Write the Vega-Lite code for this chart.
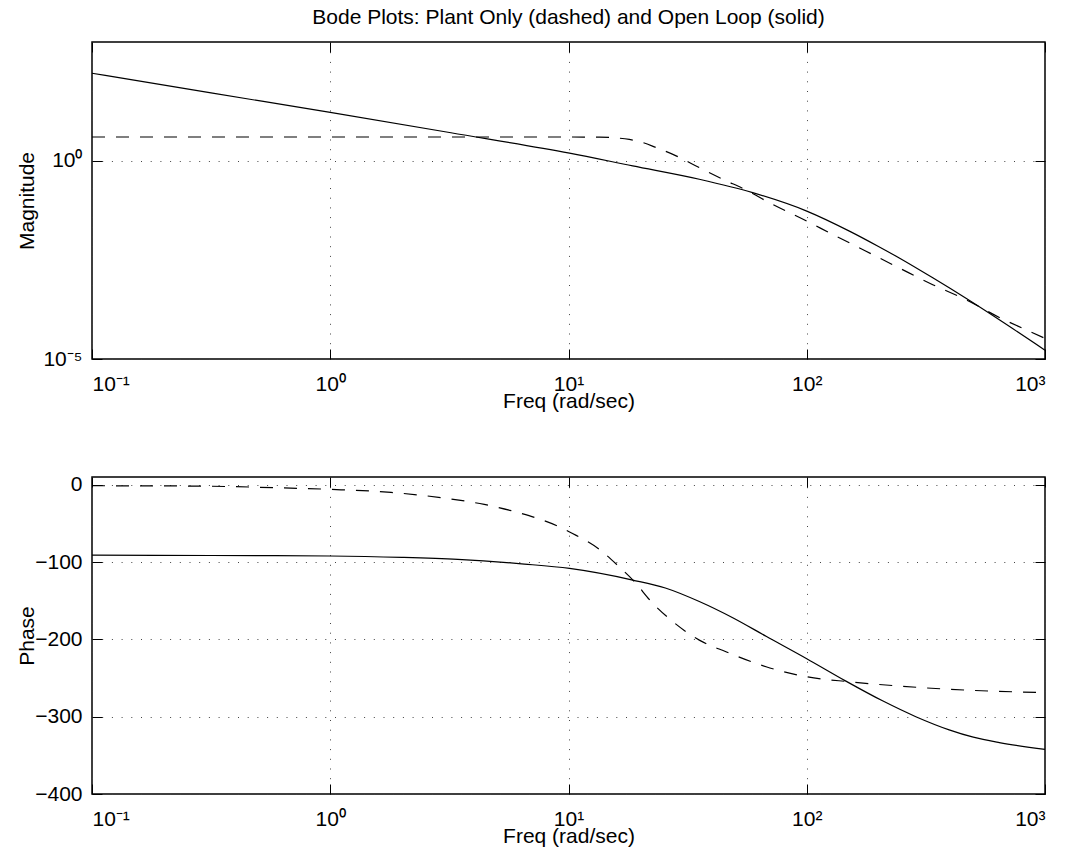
{
  "$schema": "https://vega.github.io/schema/vega-lite/v6.json",
  "background": "white",
  "padding": {"left": 15, "top": 5, "right": 20, "bottom": 5},
  "spacing": 118,
  "bounds": "flush",
  "datasets": {
    "mag": [
      {"series": "plant", "w": 0.1, "v": 4.0},
      {"series": "plant", "w": 1, "v": 4.0},
      {"series": "plant", "w": 10, "v": 4.0},
      {"series": "plant", "w": 13.5, "v": 3.98},
      {"series": "plant", "w": 14.8, "v": 3.9},
      {"series": "plant", "w": 18, "v": 3.47},
      {"series": "plant", "w": 20.5, "v": 2.91},
      {"series": "plant", "w": 23.3, "v": 2.17},
      {"series": "plant", "w": 28.3, "v": 1.34},
      {"series": "plant", "w": 35.4, "v": 0.676},
      {"series": "plant", "w": 44.4, "v": 0.344},
      {"series": "plant", "w": 55.6, "v": 0.184},
      {"series": "plant", "w": 69.7, "v": 0.0878},
      {"series": "plant", "w": 100, "v": 0.0302},
      {"series": "plant", "w": 128.5, "v": 0.0139},
      {"series": "plant", "w": 177.4, "v": 0.00525},
      {"series": "plant", "w": 244.5, "v": 0.00198},
      {"series": "plant", "w": 338, "v": 0.00075},
      {"series": "plant", "w": 466, "v": 0.000313},
      {"series": "plant", "w": 643, "v": 0.000112},
      {"series": "plant", "w": 832, "v": 0.0000545},
      {"series": "plant", "w": 1000, "v": 0.0000333},
      {"series": "open", "w": 0.1, "v": 162.9},
      {"series": "open", "w": 0.316, "v": 51.9},
      {"series": "open", "w": 1, "v": 16.7},
      {"series": "open", "w": 3.21, "v": 5.12},
      {"series": "open", "w": 10.1, "v": 1.57},
      {"series": "open", "w": 18.6, "v": 0.747},
      {"series": "open", "w": 35.4, "v": 0.344},
      {"series": "open", "w": 59.3, "v": 0.158},
      {"series": "open", "w": 100, "v": 0.0541},
      {"series": "open", "w": 151, "v": 0.0169},
      {"series": "open", "w": 200, "v": 0.00692},
      {"series": "open", "w": 244.5, "v": 0.00354},
      {"series": "open", "w": 338, "v": 0.001117},
      {"series": "open", "w": 466, "v": 0.00034},
      {"series": "open", "w": 643, "v": 0.0000977},
      {"series": "open", "w": 1000, "v": 0.0000167}
    ],
    "phase": [
      {"series": "plant", "w": 0.1, "v": -1.3},
      {"series": "plant", "w": 0.26, "v": -1.7},
      {"series": "plant", "w": 0.6, "v": -3.9},
      {"series": "plant", "w": 1, "v": -6.0},
      {"series": "plant", "w": 1.8, "v": -9.9},
      {"series": "plant", "w": 2.92, "v": -16.8},
      {"series": "plant", "w": 4.43, "v": -25.5},
      {"series": "plant", "w": 6.32, "v": -37},
      {"series": "plant", "w": 9.01, "v": -53.5},
      {"series": "plant", "w": 10.4, "v": -63},
      {"series": "plant", "w": 13.5, "v": -83.7},
      {"series": "plant", "w": 16.3, "v": -106},
      {"series": "plant", "w": 18.6, "v": -123},
      {"series": "plant", "w": 22.6, "v": -153.5},
      {"series": "plant", "w": 27.4, "v": -177},
      {"series": "plant", "w": 35.4, "v": -201},
      {"series": "plant", "w": 45.8, "v": -216},
      {"series": "plant", "w": 67.5, "v": -235.4},
      {"series": "plant", "w": 100, "v": -248.4},
      {"series": "plant", "w": 151, "v": -254.8},
      {"series": "plant", "w": 244.5, "v": -260.4},
      {"series": "plant", "w": 466, "v": -265.6},
      {"series": "plant", "w": 1000, "v": -268.8},
      {"series": "open", "w": 0.1, "v": -91},
      {"series": "open", "w": 0.316, "v": -91.5},
      {"series": "open", "w": 1, "v": -92.2},
      {"series": "open", "w": 2, "v": -94},
      {"series": "open", "w": 3.43, "v": -96.6},
      {"series": "open", "w": 6.53, "v": -102.6},
      {"series": "open", "w": 10.1, "v": -108.3},
      {"series": "open", "w": 18.6, "v": -123.3},
      {"series": "open", "w": 25.5, "v": -133.5},
      {"series": "open", "w": 35.4, "v": -151},
      {"series": "open", "w": 48.9, "v": -172},
      {"series": "open", "w": 67.5, "v": -196},
      {"series": "open", "w": 100, "v": -225},
      {"series": "open", "w": 146, "v": -254},
      {"series": "open", "w": 208, "v": -279.5},
      {"series": "open", "w": 287, "v": -300},
      {"series": "open", "w": 396, "v": -317},
      {"series": "open", "w": 500, "v": -326.5},
      {"series": "open", "w": 643, "v": -333.5},
      {"series": "open", "w": 1000, "v": -342.4}
    ]
  },
  "config": {
    "font": "Liberation Sans",
    "view": {"stroke": "black", "strokeWidth": 1.5},
    "axis": {
      "labelFont": "Liberation Sans",
      "labelFontSize": 21,
      "labelColor": "black",
      "titleFont": "Liberation Sans",
      "titleFontSize": 21,
      "titleFontWeight": "normal",
      "titleColor": "black",
      "domain": false,
      "tickColor": "black",
      "tickWidth": 1,
      "tickSize": -10,
      "grid": true,
      "gridColor": "#444",
      "gridDash": [1, 8.7],
      "gridWidth": 1
    },
    "title": {"font": "Liberation Sans", "fontSize": 21, "fontWeight": "normal", "color": "black"}
  },
  "vconcat": [
    {
      "width": 953,
      "height": 317,
      "title": {"text": "Bode Plots: Plant Only (dashed) and Open Loop (solid)", "frame": "group", "anchor": "middle", "offset": 14},
      "data": {"name": "mag"},
      "resolve": {"axis": {"x": "independent", "y": "independent"}},
      "layer": [
        {
          "transform": [{"filter": "datum.series === 'open'"}],
          "mark": {"type": "line", "color": "black", "strokeWidth": 1.2, "interpolate": "monotone"},
          "encoding": {
            "x": {"field": "w", "type": "quantitative",
              "scale": {"type": "log", "domain": [0.1, 1000], "nice": false},
              "axis": {"values": [0.1, 1, 10, 100, 1000], "title": "Freq (rad/sec)", "labelPadding": 24, "titlePadding": -4,
                "labelExpr": "'10' + (datum.value < 0.5 ? '⁻¹' : datum.value < 5 ? '⁰' : datum.value < 50 ? '¹' : datum.value < 500 ? '²' : '³')"}},
            "y": {"field": "v", "type": "quantitative",
              "scale": {"type": "log", "domain": [0.00001, 1000], "nice": false},
              "axis": {"values": [0.00001, 1], "title": "Magnitude", "labelPadding": 20, "titleX": -59, "titleBaseline": "alphabetic",
                "labelExpr": "datum.value < 0.001 ? '10⁻⁵' : '10⁰'"}}
          }
        },
        {
          "transform": [{"filter": "datum.series === 'plant'"}],
          "mark": {"type": "line", "color": "black", "strokeWidth": 1.2, "strokeDash": [13, 11], "interpolate": "monotone"},
          "encoding": {
            "x": {"field": "w", "type": "quantitative",
              "scale": {"type": "log", "domain": [0.1, 1000], "nice": false},
              "axis": {"orient": "top", "values": [0.1, 1, 10, 100, 1000], "labels": false, "grid": false, "title": null}},
            "y": {"field": "v", "type": "quantitative",
              "scale": {"type": "log", "domain": [0.00001, 1000], "nice": false},
              "axis": {"orient": "right", "values": [0.00001, 1], "labels": false, "grid": false, "title": null}}
          }
        }
      ]
    },
    {
      "width": 953,
      "height": 317,
      "data": {"name": "phase"},
      "resolve": {"axis": {"x": "independent", "y": "independent"}},
      "layer": [
        {
          "transform": [{"filter": "datum.series === 'open'"}],
          "mark": {"type": "line", "color": "black", "strokeWidth": 1.2, "interpolate": "monotone"},
          "encoding": {
            "x": {"field": "w", "type": "quantitative",
              "scale": {"type": "log", "domain": [0.1, 1000], "nice": false},
              "axis": {"values": [0.1, 1, 10, 100, 1000], "title": "Freq (rad/sec)", "labelPadding": 24, "titlePadding": -4,
                "labelExpr": "'10' + (datum.value < 0.5 ? '⁻¹' : datum.value < 5 ? '⁰' : datum.value < 50 ? '¹' : datum.value < 500 ? '²' : '³')"}},
            "y": {"field": "v", "type": "quantitative",
              "scale": {"domain": [-400, 10], "nice": false, "zero": false},
              "axis": {"values": [-400, -300, -200, -100, 0], "title": "Phase", "labelPadding": 20, "titleX": -59, "titleBaseline": "alphabetic",
                "labelExpr": "datum.value < 0 ? '−' + abs(datum.value) : '0'"}}
          }
        },
        {
          "transform": [{"filter": "datum.series === 'plant'"}],
          "mark": {"type": "line", "color": "black", "strokeWidth": 1.2, "strokeDash": [13, 11], "interpolate": "monotone"},
          "encoding": {
            "x": {"field": "w", "type": "quantitative",
              "scale": {"type": "log", "domain": [0.1, 1000], "nice": false},
              "axis": {"orient": "top", "values": [0.1, 1, 10, 100, 1000], "labels": false, "grid": false, "title": null}},
            "y": {"field": "v", "type": "quantitative",
              "scale": {"domain": [-400, 10], "nice": false, "zero": false},
              "axis": {"orient": "right", "values": [-400, -300, -200, -100, 0], "labels": false, "grid": false, "title": null}}
          }
        }
      ]
    }
  ]
}
